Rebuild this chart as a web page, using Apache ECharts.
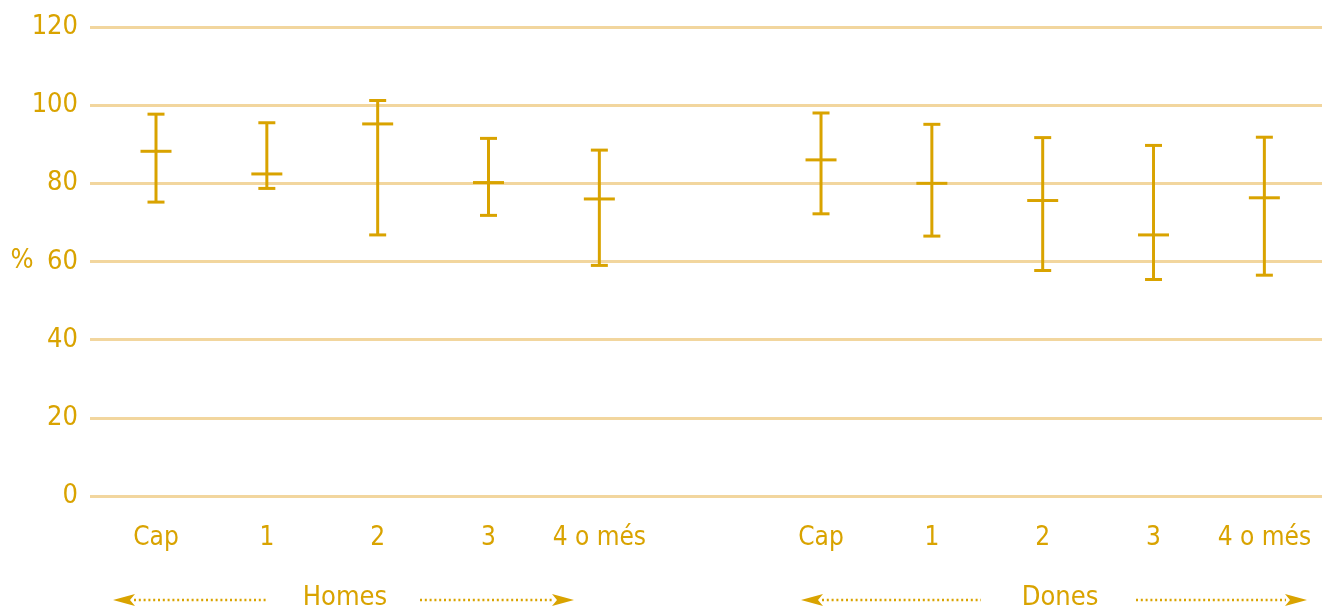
<!DOCTYPE html>
<html>
<head>
<meta charset="utf-8">
<script src="https://cdn.jsdelivr.net/npm/echarts@6/dist/echarts.min.js"></script>
<style>
html,body{margin:0;padding:0;background:#fff;}
#chart{width:1322px;height:609px;}
</style>
</head>
<body>
<div id="chart"></div>
<script>
// ---- data ----
const categories = ['Cap', '1', '2', '3', '4 o més', '', 'Cap', '1', '2', '3', '4 o més'];
const lowerValues = [75.2, 78.7, 66.8, 71.8, 59.0, null, 72.2, 66.5, 57.7, 55.4, 56.5];
const meanValues  = [88.2, 82.4, 95.2, 80.2, 76.0, null, 86.0, 80.0, 75.6, 66.8, 76.3];
const upperValues = [97.7, 95.5, 101.2, 91.5, 88.5, null, 98.0, 95.1, 91.7, 89.7, 91.8];
const groupNames = ['Homes', 'Dones'];
const yAxisUnit = '%';

// ---- styles ----
const GOLD = '#D9A300';
const GRID = '#F2D69E';
const FONT = "'Liberation Sans Narrow', 'DejaVu Sans Condensed', 'Roboto', sans-serif";

const errData = [];
categories.forEach((c, i) => {
  if (meanValues[i] != null) errData.push([i, lowerValues[i], meanValues[i], upperValues[i]]);
});
const labelData = categories.map((c, i) => [i, 0]);

function renderErr(params, api) {
  const x = api.value(0);
  const lo = api.coord([x, api.value(1)]);
  const me = api.coord([x, api.value(2)]);
  const hi = api.coord([x, api.value(3)]);
  const style = { stroke: GOLD, lineWidth: 3 };
  const cap = 8.5, mcap = 15.5;
  return {
    type: 'group',
    children: [
      { type: 'line', shape: { x1: hi[0], y1: hi[1], x2: lo[0], y2: lo[1] }, style },
      { type: 'line', shape: { x1: hi[0] - cap, y1: hi[1], x2: hi[0] + cap, y2: hi[1] }, style },
      { type: 'line', shape: { x1: lo[0] - cap, y1: lo[1], x2: lo[0] + cap, y2: lo[1] }, style },
      { type: 'line', shape: { x1: me[0] - mcap, y1: me[1], x2: me[0] + mcap, y2: me[1] }, style }
    ]
  };
}

function renderLabel(params, api) {
  const p = api.coord([api.value(0), 0]);
  const txt = categories[api.value(0)];
  return {
    type: 'text',
    style: {
      x: p[0], y: p[1] + 42, text: txt,
      fill: GOLD, font: '26px ' + FONT,
      align: 'center', verticalAlign: 'middle'
    }
  };
}

function arrow(tipX, backX, y, dir) {
  return {
    type: 'polygon',
    shape: { points: [[tipX, y], [backX, y - 6], [backX + dir * 5, y], [backX, y + 6]] },
    style: { fill: GOLD }
  };
}
function dotted(x1, x2, y) {
  return {
    type: 'line',
    shape: { x1: x1, y1: y, x2: x2, y2: y },
    style: { stroke: GOLD, lineWidth: 2.5, lineDash: [2, 2.8] }
  };
}
function groupText(x, txt) {
  return {
    type: 'text',
    style: { x: x, y: 598, text: txt, fill: GOLD, font: '27px ' + FONT, align: 'center', verticalAlign: 'middle' }
  };
}

const chart = echarts.init(document.getElementById('chart'));
chart.setOption({
  animation: false,
  backgroundColor: '#fff',
  grid: { left: 90, right: 0, top: 27, bottom: 113 },
  xAxis: {
    type: 'value', min: -0.5955, max: 10.52,
    axisLine: { show: false }, axisTick: { show: false },
    axisLabel: { show: false }, splitLine: { show: false }
  },
  yAxis: {
    type: 'value', min: 0, max: 120, interval: 20,
    axisLine: { show: false }, axisTick: { show: false },
    axisLabel: { color: GOLD, fontSize: 27, fontFamily: FONT, margin: 12 },
    splitLine: { lineStyle: { color: GRID, width: 3 } }
  },
  graphic: [
    { type: 'text', style: { x: 22, y: 261, text: yAxisUnit, fill: GOLD, font: '27px ' + FONT, align: 'center', verticalAlign: 'middle' } },
    dotted(134, 267, 600), arrow(113, 135, 600, -1),
    groupText(345, groupNames[0]),
    dotted(420, 553, 600), arrow(574, 552, 600, 1),
    dotted(822, 981, 600), arrow(801, 823, 600, -1),
    groupText(1060, groupNames[1]),
    dotted(1136, 1286, 600), arrow(1307, 1285, 600, 1)
  ],
  series: [
    {
      type: 'custom', name: 'err', renderItem: renderErr, data: errData,
      encode: { x: 0, y: [1, 2, 3] }, clip: false, silent: true
    },
    {
      type: 'custom', name: 'labels', renderItem: renderLabel, data: labelData,
      encode: { x: 0, y: 1 }, clip: false, silent: true
    }
  ]
});
</script>
</body>
</html>
